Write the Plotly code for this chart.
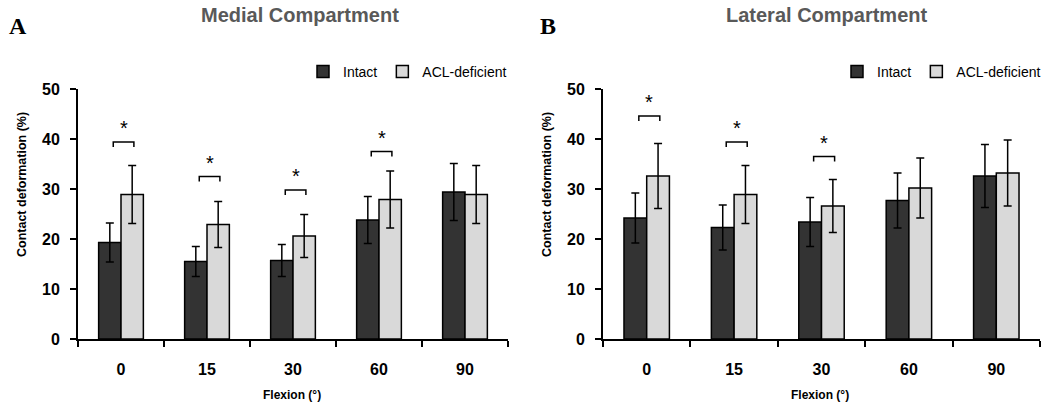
import plotly.graph_objects as go

flexion = ["0", "15", "30", "60", "90"]

medial_intact = [19.3, 15.5, 15.7, 23.8, 29.4]
medial_intact_sd = [3.9, 3.0, 3.2, 4.7, 5.7]
medial_acl = [28.9, 22.9, 20.6, 27.9, 28.9]
medial_acl_sd = [5.8, 4.6, 4.3, 5.7, 5.8]

lateral_intact = [24.2, 22.3, 23.4, 27.7, 32.6]
lateral_intact_sd = [5.0, 4.5, 4.9, 5.5, 6.3]
lateral_acl = [32.6, 28.9, 26.6, 30.2, 33.2]
lateral_acl_sd = [6.5, 5.8, 5.3, 6.0, 6.6]

# significance brackets: (category index, bracket level)
medial_sig = [(0, 39.4), (1, 32.5), (2, 29.8), (3, 37.5)]
lateral_sig = [(0, 44.6), (1, 39.4), (2, 36.5)]

DARK = "#333333"
LIGHT = "#d9d9d9"
FONT = "Liberation Sans"

fig = go.Figure()

def add_panel(intact, intact_sd, acl, acl_sd, xa, ya, legend):
    fig.add_trace(go.Bar(
        x=flexion, y=intact, name="Intact", xaxis=xa, yaxis=ya,
        marker=dict(color=DARK, line=dict(color="black", width=1.5)),
        error_y=dict(type="data", array=intact_sd, visible=True,
                     color="black", thickness=1.5, width=4),
        legend=legend,
    ))
    fig.add_trace(go.Bar(
        x=flexion, y=acl, name="ACL-deficient", xaxis=xa, yaxis=ya,
        marker=dict(color=LIGHT, line=dict(color="black", width=1.5)),
        error_y=dict(type="data", array=acl_sd, visible=True,
                     color="black", thickness=1.5, width=4),
        legend=legend,
    ))

add_panel(medial_intact, medial_intact_sd, medial_acl, medial_acl_sd, "x", "y", "legend")
add_panel(lateral_intact, lateral_intact_sd, lateral_acl, lateral_acl_sd, "x2", "y2", "legend2")

def add_sig(sig, xref, yref):
    for idx, lvl in sig:
        x0, x1 = idx - 0.09, idx + 0.15
        fig.add_shape(type="path",
                      path=f"M {x0} {lvl-1.0} L {x0} {lvl} L {x1} {lvl} L {x1} {lvl-1.0}",
                      xref=xref, yref=yref, line=dict(color="black", width=1.5))
        fig.add_annotation(x=idx + 0.03, y=lvl + 0.2, xref=xref, yref=yref,
                           text="*", showarrow=False, yanchor="bottom",
                           font=dict(family=FONT, size=20, color="black"))

add_sig(medial_sig, "x", "y")
add_sig(lateral_sig, "x2", "y2")

xcommon = dict(type="category", showline=True, linecolor="black", linewidth=2,
               ticks="outside", tickson="boundaries", ticklen=6, tickwidth=2,
               tickcolor="black", showgrid=False, zeroline=False, automargin=False,
               ticklabelstandoff=15,
               tickfont=dict(family=FONT, size=16, color="black", weight="bold"),
               range=[-0.5, 4.5])
ycommon = dict(range=[0, 50], dtick=10, showline=True, linecolor="black", linewidth=2,
               ticks="outside", ticklen=6, tickwidth=2, tickcolor="black",
               showgrid=False, zeroline=False, automargin=False,
               ticklabelstandoff=7,
               tickfont=dict(family=FONT, size=16, color="black", weight="bold"))

ydom = [(407 - 339) / 407, (407 - 89) / 407]

fig.update_layout(
    width=1050, height=407,
    margin=dict(l=0, r=0, t=0, b=0, autoexpand=False),
    paper_bgcolor="white", plot_bgcolor="white",
    barmode="group", bargap=0.48, bargroupgap=0,
    xaxis=dict(domain=[78 / 1050, 508 / 1050], anchor="y", **xcommon),
    yaxis=dict(domain=ydom, anchor="x", **ycommon),
    xaxis2=dict(domain=[603 / 1050, 1040 / 1050], anchor="y2", **xcommon),
    yaxis2=dict(domain=ydom, anchor="x2", **ycommon),
    legend=dict(orientation="h", x=512 / 1050, xanchor="right", y=1 - 72 / 407, yanchor="middle",
                font=dict(family=FONT, size=14, color="black"), itemwidth=30,
                bgcolor="rgba(0,0,0,0)", tracegroupgap=0),
    legend2=dict(orientation="h", x=1046 / 1050, xanchor="right", y=1 - 72 / 407, yanchor="middle",
                 font=dict(family=FONT, size=14, color="black"), itemwidth=30,
                 bgcolor="rgba(0,0,0,0)", tracegroupgap=0),
    showlegend=True,
)

annots = [
    dict(x=300 / 1050, y=1 - 15 / 407, text="Medial Compartment",
         font=dict(family=FONT, size=20, color="#595959", weight="bold")),
    dict(x=826 / 1050, y=1 - 15 / 407, text="Lateral Compartment",
         font=dict(family=FONT, size=20, color="#595959", weight="bold")),
    dict(x=18 / 1050, y=1 - 26 / 407, text="A",
         font=dict(family="Liberation Serif", size=24, color="black", weight="bold")),
    dict(x=548 / 1050, y=1 - 26 / 407, text="B",
         font=dict(family="Liberation Serif", size=24, color="black", weight="bold")),
    dict(x=292 / 1050, y=1 - 395 / 407, text="Flexion (°)",
         font=dict(family=FONT, size=12, color="black", weight="bold")),
    dict(x=820 / 1050, y=1 - 395 / 407, text="Flexion (°)",
         font=dict(family=FONT, size=12, color="black", weight="bold")),
    dict(x=22 / 1050, y=1 - 185 / 407, text="Contact deformation (%)", textangle=-90,
         font=dict(family=FONT, size=12.5, color="black", weight="bold")),
    dict(x=547 / 1050, y=1 - 185 / 407, text="Contact deformation (%)", textangle=-90,
         font=dict(family=FONT, size=12.5, color="black", weight="bold")),
]
for a in annots:
    fig.add_annotation(xref="paper", yref="paper", showarrow=False,
                       xanchor="center", yanchor="middle", **a)

fig.write_html("out.html", config={"displayModeBar": False},
               post_script="document.body.style.margin='0';")
